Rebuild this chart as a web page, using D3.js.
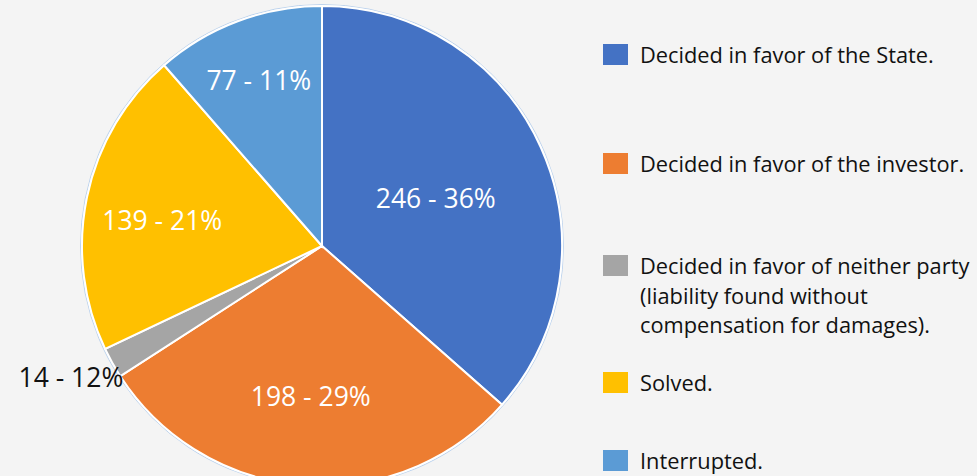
<!DOCTYPE html>
<html><head><meta charset="utf-8">
<script src="https://cdn.jsdelivr.net/npm/d3@7"></script>
<style>
html,body{margin:0;padding:0;background:#f4f4f4;}
svg{display:block;}
text{font-family:"Open Sans","Noto Sans",sans-serif;}
</style></head><body>
<svg id="chart" width="977" height="476"></svg>
<script>
const categories = [
  "Decided in favor of the State.",
  "Decided in favor of the investor.",
  "Decided in favor of neither party (liability found without compensation for damages).",
  "Solved.",
  "Interrupted."
];
const legendLines = [
  ["Decided in favor of the State."],
  ["Decided in favor of the investor."],
  ["Decided in favor of neither party", "(liability found without", "compensation for damages)."],
  ["Solved."],
  ["Interrupted."]
];
const values = [246, 198, 14, 139, 77];
const labels = ["246 - 36%", "198 - 29%", "14 - 12%", "139 - 21%", "77 - 11%"];
const colors = ["#4472c4", "#ed7d31", "#a5a5a5", "#ffc000", "#5b9bd5"];

const svg = d3.select("#chart");
const cx = 322, cy = 246, R = 240;
const g = svg.append("g").attr("transform", `translate(${cx},${cy})`);

const pie = d3.pie().sort(null).value(d => d)(values);
const arc = d3.arc().innerRadius(0).outerRadius(R);

g.append("circle").attr("r", R + 1.5).attr("fill", "none").attr("stroke", "#bcd3ee").attr("stroke-width", 1);
g.selectAll("path.slice").data(pie).join("path")
  .attr("class", "slice")
  .attr("d", arc)
  .attr("fill", (d, i) => colors[i])
  .attr("stroke", "#ffffff")
  .attr("stroke-width", 2);

// label placement factors (fraction of radius) per slice
const labelFrac = [0.52, 0.63, 0, 0.68, 0.75];
const labelShiftY = [4, 0, 0, 8, 3];
pie.forEach((d, i) => {
  if (i === 2) return;
  const a = (d.startAngle + d.endAngle) / 2;
  const r = R * labelFrac[i];
  g.append("text")
    .attr("x", r * Math.sin(a))
    .attr("y", -r * Math.cos(a) + labelShiftY[i])
    .attr("dy", "0.35em")
    .attr("text-anchor", "middle")
    .attr("fill", "#ffffff")
    .attr("font-size", 26.5)
    .text(labels[i]);
});
// small slice label outside on the left
{
  const d = pie[2];
  const a = (d.startAngle + d.endAngle) / 2;
  const x = R * Math.sin(a), y = -R * Math.cos(a);
  svg.append("text")
    .attr("x", cx + x + 11)
    .attr("y", cy + y + 24)
    .attr("text-anchor", "end")
    .attr("fill", "#111111")
    .attr("font-size", 26.5)
    .attr("font-weight", 500)
    .text(labels[2]);
}

// legend
const legendY = [55, 164, 266, 383, 461];
const lg = svg.append("g");
legendLines.forEach((lines, i) => {
  lg.append("rect")
    .attr("x", 603).attr("y", legendY[i] - 11)
    .attr("width", 25).attr("height", 21)
    .attr("fill", colors[i]);
  lines.forEach((t, j) => {
    lg.append("text")
      .attr("x", 640)
      .attr("y", legendY[i] + 8 + j * 29.5)
      .attr("fill", "#111111")
      .attr("font-size", 21.8)
      .text(t);
  });
});
</script>
</body></html>
